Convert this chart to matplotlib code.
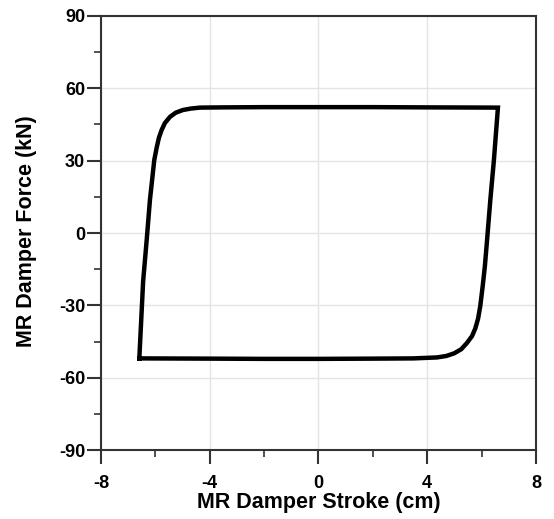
import numpy as np
import matplotlib.pyplot as plt

# 阻尼器滞回曲线（读图估计的点）
stroke = [-6.59, -6.45, -6.32, -6.20, -6.12, -6.04, -5.95, -5.87, -5.77, -5.65, -5.46, -5.25,
          -4.99, -4.70, -4.36, -3.5, -2.0, 0.0, 2.0, 4.0, 6.60,
          6.45, 6.32, 6.20, 6.12, 6.04, 5.95, 5.87, 5.77, 5.65, 5.46, 5.25,
          4.99, 4.70, 4.36, 3.5, 2.0, 0.0, -2.0, -4.0, -6.59]
force = [-52.0, -20.0, -3.0, 13.7, 22.0, 30.3, 35.5, 39.5, 42.7, 45.6, 48.2, 49.9,
         51.0, 51.6, 52.0, 52.1, 52.2, 52.2, 52.2, 52.1, 52.0,
         30.0, 13.7, -3.0, -13.7, -22.0, -30.3, -35.5, -39.5, -42.7, -45.6, -48.2,
         -49.9, -51.0, -51.6, -52.0, -52.1, -52.2, -52.2, -52.1, -52.0]

xticks = [-8, -4, 0, 4, 8]
yticks = [-90, -60, -30, 0, 30, 60, 90]

plt.rcParams['font.family'] = ['Liberation Sans', 'DejaVu Sans']
plt.rcParams['font.weight'] = 'bold'
plt.rcParams['axes.unicode_minus'] = False

fig = plt.figure(figsize=(5.54, 5.19), dpi=100)
ax = fig.add_axes([0.1823, 0.1329, 0.7852, 0.8363])

ax.plot(stroke, force, color='black', lw=3.2, solid_joinstyle='miter')

ax.set_xlim(-8, 8)
ax.set_ylim(-90, 90)
ax.set_xticks(xticks)
ax.set_yticks(yticks)
ax.set_xticks([-6, -2, 2, 6], minor=True)
ax.set_yticks([-75, -45, -15, 15, 45, 75], minor=True)
ax.grid(True, which='major', color='#e4e4e4', lw=1.0)
ax.set_axisbelow(True)

ax.tick_params(which='major', direction='out', length=10, width=1.5, color='#333333',
               labelsize=13)
ax.tick_params(axis='x', which='major', pad=8)
ax.tick_params(axis='y', which='major', pad=1.5)
ax.tick_params(which='minor', direction='out', length=5, width=1.2, color='#333333')
for s in ax.spines.values():
    s.set_color('#333333')
    s.set_linewidth(1.5)

ax.set_xlabel('MR Damper Stroke (cm)', fontsize=15.5, fontweight='bold')
ax.set_ylabel('MR Damper Force (kN)', fontsize=15.5, fontweight='bold')
ax.xaxis.set_label_coords(0.5, -0.096)
ax.yaxis.set_label_coords(-0.148, 0.505)

plt.savefig('out.png', dpi=100)
